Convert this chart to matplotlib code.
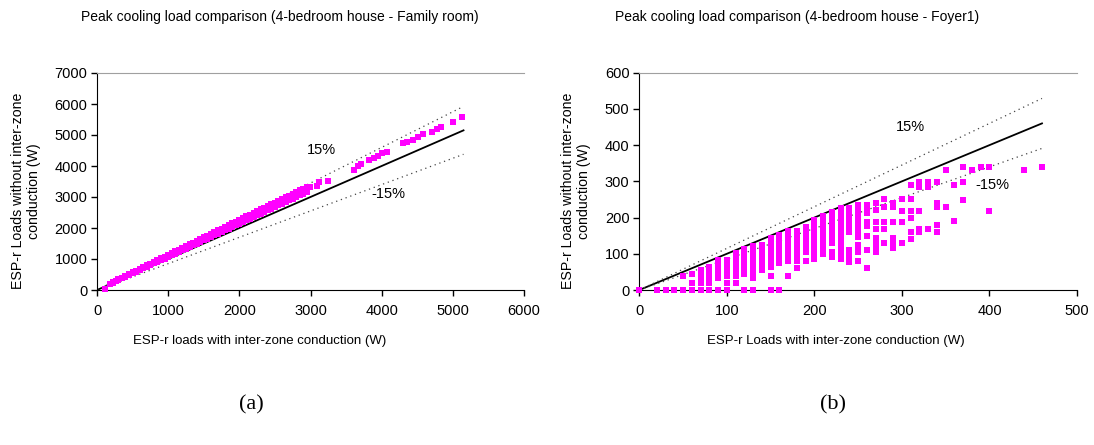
import matplotlib
matplotlib.use("Agg")
import matplotlib.pyplot as plt

plt.rcParams['font.family'] = ['Liberation Sans', 'DejaVu Sans']

# ---------------- data: (a) Family room ----------------
fam_x = [110, 180, 220, 260, 300, 350, 400, 450, 500, 550, 600, 650, 700, 750, 800, 850,
         900, 950, 1000, 1050, 1100, 1150, 1200, 1250, 1300, 1350, 1400, 1450, 1500,
         1550, 1600, 1650, 1700, 1750, 1800, 1850, 1900, 1950, 2000, 2050, 2100, 2150,
         2200, 2250, 2300, 2350, 2400, 2450, 2500, 2550, 2600, 2650, 2700, 2750, 2800,
         2850, 2900, 2950,
         180, 220, 260, 300, 350, 400, 450, 500, 550, 600, 650, 700, 750, 800, 850,
         900, 950, 1000, 1050, 1100, 1150, 1200, 1250, 1300, 1350, 1400, 1450, 1500,
         1550, 1600, 1650, 1700, 1750, 1800, 1850, 1900, 1950, 2000, 2050, 2100, 2150,
         2200, 2250, 2300, 2350, 2400, 2450, 2500, 2550, 2600, 2650, 2700, 2750, 2800,
         2850, 2900, 2950,
         2996, 3085, 3122, 3249, 3610, 3670, 3716, 3824, 3890, 3951, 4011, 4068, 4302,
         4349, 4443, 4513, 4583, 4701, 4771, 4827, 4996, 5135]
fam_y = [20, 200, 250, 295, 340, 395, 450, 510, 565, 622, 680, 735, 792, 848, 905, 962,
         1018, 1075, 1130, 1188, 1243, 1300, 1357, 1412, 1470, 1525, 1583, 1640, 1695,
         1752, 1810, 1865, 1922, 1978, 2035, 2090, 2148, 2205, 2260, 2318, 2372, 2430,
         2486, 2542, 2598, 2655, 2710, 2768, 2822, 2880, 2935, 2990, 3048, 3105, 3160,
         3215, 3270, 3320,
         190, 235, 280, 320, 375, 428, 482, 535, 590, 642, 695, 750, 802, 856, 910,
         963, 1016, 1070, 1124, 1177, 1230, 1284, 1338, 1390, 1445, 1498, 1552, 1605,
         1660, 1712, 1765, 1820, 1872, 1926, 1980, 2033, 2086, 2140, 2193, 2247, 2300,
         2354, 2407, 2460, 2514, 2568, 2620, 2675, 2728, 2782, 2836, 2888, 2942, 2996,
         3050, 3105, 3160,
         3332, 3355, 3494, 3505, 3871, 4010, 4054, 4194, 4247, 4323, 4409, 4462, 4731,
         4785, 4839, 4946, 5022, 5108, 5183, 5269, 5430, 5590]
fam_line_end = 5150

# ---------------- data: (b) Foyer1 ----------------
foy_cols = {
    0: [0],
    20: [0], 30: [0], 40: [0],
    50: [40, 0],
    60: [45, 20, 0],
    70: [55, 45, 35, 20, 0],
    80: [64, 55, 45, 35, 20, 0],
    90: [83, 73, 63, 53, 43, 33, 0],
    100: [83, 73, 63, 53, 40, 20, 0],
    110: [103, 93, 83, 73, 63, 55, 40, 20],
    120: [112, 102, 92, 82, 72, 62, 52, 44, 0],
    130: [122, 112, 102, 92, 82, 72, 62, 52, 42, 34, 0],
    140: [125, 115, 105, 95, 85, 75, 65, 55],
    150: [143, 133, 123, 113, 103, 93, 83, 73, 64, 40, 0],
    160: [153, 143, 133, 123, 113, 103, 93, 83, 74, 0],
    170: [164, 154, 144, 134, 124, 114, 104, 92, 80, 40],
    180: [164, 154, 144, 134, 124, 114, 104, 95, 80, 60],
    190: [174, 164, 154, 144, 134, 124, 114, 106, 80],
    200: [193, 183, 173, 163, 153, 143, 133, 123, 113, 103, 93, 85],
    210: [203, 193, 183, 173, 163, 153, 143, 133, 123, 112, 99],
    220: [214, 204, 194, 184, 174, 164, 154, 146, 129, 104, 92],
    230: [226, 216, 206, 196, 186, 176, 166, 156, 146, 136, 126, 116, 106, 96, 85],
    240: [226, 216, 198, 190, 180, 170, 160, 110, 100, 93, 78],
    250: [235, 225, 212, 200, 184, 174, 164, 154, 146, 125, 116, 106, 80],
    260: [235, 225, 212, 189, 178, 150, 110, 60],
    270: [239, 221, 189, 168, 143, 133, 123, 113, 106],
    280: [250, 230, 189, 168, 129],
    290: [239, 228, 189, 143, 133, 123, 115],
    300: [250, 219, 189, 129],
    310: [290, 250, 219, 199, 159, 140],
    320: [299, 290, 285, 219, 168, 160],
    330: [299, 290, 285, 168],
    340: [299, 239, 230, 179, 159],
    350: [330, 230],
    360: [290, 190],
    370: [339, 299, 249],
    380: [330],
    390: [339],
    400: [339, 219],
    440: [330],
    460: [339],
}
foy_line_end = 460

# ---------------- figure ----------------
W, H = 1094, 445
fig = plt.figure(figsize=(W / 100, H / 100), dpi=100)


def px(x, y):
    return x / W, 1 - y / H


MAG = '#FF00FF'


def style_axes(ax):
    ax.spines['right'].set_visible(False)
    ax.spines['top'].set_color('#A0A0A0')
    ax.spines['left'].set_color('black')
    ax.spines['bottom'].set_color('black')
    ax.tick_params(direction='out', length=4, width=1, labelsize=10.5, colors='black')
    ax.tick_params(axis='y', pad=3)
    ax.tick_params(axis='x', pad=6)


# (a)
ax1 = fig.add_axes([97 / W, 1 - 290 / H, (524 - 97) / W, (290 - 73) / H])
style_axes(ax1)
ax1.set_xlim(0, 6000)
ax1.set_ylim(0, 7000)
ax1.set_xticks(range(0, 6001, 1000))
ax1.set_yticks(range(0, 7001, 1000))
ax1.plot([0, fam_line_end], [0, fam_line_end], color='black', lw=1.3, zorder=2)
ax1.plot([0, fam_line_end], [0, fam_line_end * 1.15], color='#444444', lw=0.9,
         ls=(0, (1, 3)), zorder=2)
ax1.plot([0, fam_line_end], [0, fam_line_end * 0.85], color='#444444', lw=0.9,
         ls=(0, (1, 3)), zorder=2)
ax1.scatter(fam_x, fam_y, marker='s', s=13, color=MAG, linewidths=0, zorder=3,
            clip_on=False)
ax1.text(3150, 4500, '15%', fontsize=10.5, ha='center', va='center')
ax1.text(4100, 3100, '-15%', fontsize=10.5, ha='center', va='center')

# (b)
ax2 = fig.add_axes([639.3 / W, 1 - 290 / H, (1077 - 639.3) / W, (290 - 72.7) / H])
style_axes(ax2)
ax2.set_xlim(0, 500)
ax2.set_ylim(0, 600)
ax2.set_xticks(range(0, 501, 100))
ax2.set_yticks(range(0, 601, 100))
ax2.plot([0, foy_line_end], [0, foy_line_end], color='black', lw=1.3, zorder=2)
ax2.plot([0, foy_line_end], [0, foy_line_end * 1.15], color='#444444', lw=0.9,
         ls=(0, (1, 3)), zorder=2)
ax2.plot([0, foy_line_end], [0, foy_line_end * 0.85], color='#444444', lw=0.9,
         ls=(0, (1, 3)), zorder=2)
bx, by = [], []
for xv, ys in foy_cols.items():
    for yv in ys:
        bx.append(xv)
        by.append(yv)
ax2.scatter(bx, by, marker='s', s=15, color=MAG, linewidths=0, zorder=3,
            clip_on=False)
ax2.text(310, 450, '15%', fontsize=10.5, ha='center', va='center')
ax2.text(403, 290, '-15%', fontsize=10.5, ha='center', va='center')

# titles and labels
fig.text(*px(280, 17), 'Peak cooling load comparison (4-bedroom house - Family room)',
         fontsize=10, ha='center', va='center')
fig.text(*px(797, 17), 'Peak cooling load comparison (4-bedroom house - Foyer1)',
         fontsize=10, ha='center', va='center')
fig.text(*px(26, 191), 'ESP-r Loads without inter-zone\nconduction (W)', fontsize=10.2,
         ha='center', va='center', rotation=90, multialignment='center')
fig.text(*px(576, 191), 'ESP-r Loads without inter-zone\nconduction (W)', fontsize=10.2,
         ha='center', va='center', rotation=90, multialignment='center')
fig.text(*px(260, 341), 'ESP-r loads with inter-zone conduction (W)', fontsize=9.5,
         ha='center', va='center')
fig.text(*px(836, 341), 'ESP-r Loads with inter-zone conduction (W)', fontsize=9.5,
         ha='center', va='center')
fig.text(*px(251, 405), '(a)', fontsize=16, ha='center', va='center',
         family=['Liberation Serif', 'DejaVu Serif'])
fig.text(*px(833, 405), '(b)', fontsize=16, ha='center', va='center',
         family=['Liberation Serif', 'DejaVu Serif'])

fig.savefig('out.png', dpi=100)
